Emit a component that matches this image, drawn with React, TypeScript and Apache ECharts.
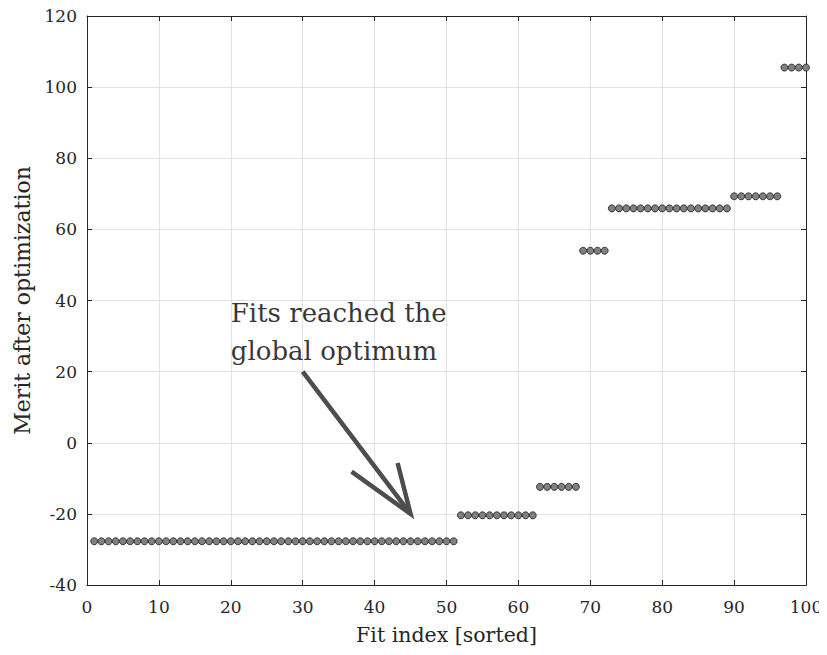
import React, { useEffect, useRef } from "react";
import * as echarts from "echarts";

// Merit after optimization for each fit (sorted), fit index = position + 1
const meritGroup1 = [
  -27.7, -27.7, -27.7, -27.7, -27.7, -27.7, -27.7, -27.7, -27.7, -27.7,
  -27.7, -27.7, -27.7, -27.7, -27.7, -27.7, -27.7, -27.7, -27.7, -27.7,
  -27.7, -27.7, -27.7, -27.7, -27.7, -27.7, -27.7, -27.7, -27.7, -27.7,
  -27.7, -27.7, -27.7, -27.7, -27.7, -27.7, -27.7, -27.7, -27.7, -27.7,
  -27.7, -27.7, -27.7, -27.7, -27.7, -27.7, -27.7, -27.7, -27.7, -27.7,
  -27.7,
];
const meritGroup2 = [-20.4, -20.4, -20.4, -20.4, -20.4, -20.4, -20.4, -20.4, -20.4, -20.4, -20.4];
const meritGroup3 = [-12.4, -12.4, -12.4, -12.4, -12.4, -12.4];
const meritGroup4 = [54.0, 54.0, 54.0, 54.0];
const meritGroup5 = [
  65.9, 65.9, 65.9, 65.9, 65.9, 65.9, 65.9, 65.9, 65.9, 65.9,
  65.9, 65.9, 65.9, 65.9, 65.9, 65.9, 65.9,
];
const meritGroup6 = [69.3, 69.3, 69.3, 69.3, 69.3, 69.3, 69.3];
const meritGroup7 = [105.5, 105.5, 105.5, 105.5];

const merit = [
  ...meritGroup1,
  ...meritGroup2,
  ...meritGroup3,
  ...meritGroup4,
  ...meritGroup5,
  ...meritGroup6,
  ...meritGroup7,
];

// Annotation (data coordinates)
const annotationText = "Fits reached the\nglobal optimum";
const annotationAnchor = [20, 31.2];
const arrowShaft = [
  [30, 20],
  [45, -20],
];
const arrowHead = [
  [36.8, -8.1],
  [45, -20],
  [43.2, -5.7],
];

const xTicks = { min: 0, max: 100, interval: 10 };
const yTicks = { min: -40, max: 120, interval: 20 };

const FONT = "DejaVu Serif";
const AXIS_COLOR = "#262626";

export default function App() {
  const ref = useRef<HTMLDivElement>(null);

  useEffect(() => {
    if (!ref.current) return;
    const chart = echarts.init(ref.current, null, { renderer: "svg" });

    const points = merit.map((v, i) => [i + 1, v]);

    const axisCommon = {
      axisLine: { show: true, onZero: false, lineStyle: { color: AXIS_COLOR, width: 1 } },
      axisTick: { show: true, inside: true, length: 5, lineStyle: { color: AXIS_COLOR } },
    };

    chart.setOption({
      animation: false,
      backgroundColor: "#ffffff",
      grid: { left: 87, right: 21, top: 16, bottom: 70, containLabel: false },
      xAxis: [
        {
          type: "value",
          ...xTicks,
          position: "bottom",
          ...axisCommon,
          axisLabel: {
            show: true,
            color: AXIS_COLOR,
            fontFamily: FONT,
            fontSize: 17,
            margin: 13,
          },
          splitLine: { show: true, lineStyle: { color: "#e3e3e3", width: 1 } },
          name: "Fit index [sorted]",
          nameLocation: "middle",
          nameGap: 39,
          nameTextStyle: { color: AXIS_COLOR, fontFamily: FONT, fontSize: 20.5 },
        },
        {
          type: "value",
          ...xTicks,
          position: "top",
          ...axisCommon,
          axisLabel: { show: false },
          splitLine: { show: false },
        },
      ],
      yAxis: [
        {
          type: "value",
          ...yTicks,
          position: "left",
          ...axisCommon,
          axisLabel: {
            show: true,
            color: AXIS_COLOR,
            fontFamily: FONT,
            fontSize: 17,
            margin: 10,
            formatter: (v: number) => String(v),
          },
          splitLine: { show: true, lineStyle: { color: "#e3e3e3", width: 1 } },
          name: "Merit after optimization",
          nameLocation: "middle",
          nameGap: 54,
          nameRotate: 90,
          nameTextStyle: { color: AXIS_COLOR, fontFamily: FONT, fontSize: 22 },
        },
        {
          type: "value",
          ...yTicks,
          position: "right",
          ...axisCommon,
          axisLabel: { show: false },
          splitLine: { show: false },
        },
      ],
      series: [
        {
          type: "scatter",
          xAxisIndex: 0,
          yAxisIndex: 0,
          data: points,
          symbol: "circle",
          symbolSize: 7,
          itemStyle: { color: "#808080", borderColor: "#1a1a1a", borderWidth: 0.8, opacity: 1 },
          silent: true,
          z: 5,
        },
        {
          type: "line",
          xAxisIndex: 0,
          yAxisIndex: 0,
          data: arrowShaft,
          symbol: "none",
          lineStyle: { color: "#4d4d4d", width: 4.5, cap: "butt" },
          silent: true,
          z: 4,
        },
        {
          type: "line",
          xAxisIndex: 0,
          yAxisIndex: 0,
          data: arrowHead,
          symbol: "none",
          lineStyle: { color: "#4d4d4d", width: 4.5, cap: "butt", join: "miter" },
          silent: true,
          z: 4,
        },
        {
          type: "scatter",
          xAxisIndex: 0,
          yAxisIndex: 0,
          data: [annotationAnchor],
          symbolSize: 0,
          silent: true,
          label: {
            show: true,
            position: "right",
            distance: 0,
            align: "left",
            verticalAlign: "middle",
            formatter: annotationText,
            color: "#000000",
            fontFamily: FONT,
            fontSize: 26,
            lineHeight: 38,
          },
          z: 6,
        },
      ],
    });

    return () => chart.dispose();
  }, []);

  return <div ref={ref} style={{ width: 827, height: 655, margin: -8 }} />;
}
